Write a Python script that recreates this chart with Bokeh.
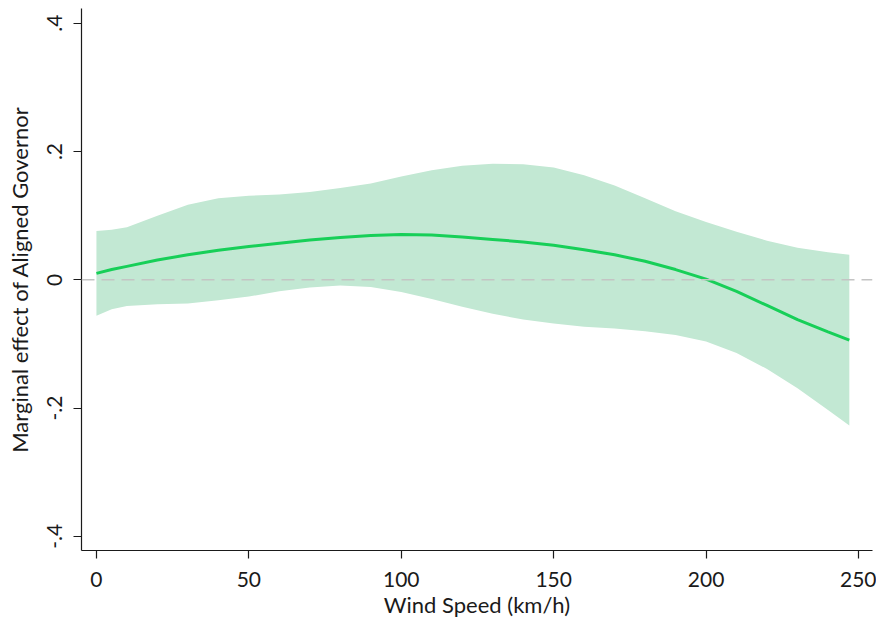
from bokeh.plotting import figure
from bokeh.models import Span, FixedTicker, ColumnDataSource
from bokeh.embed import file_html
from bokeh.resources import INLINE

wind_speed = [0, 5, 10, 20, 30, 40, 50, 60, 70, 80, 90, 100, 110, 120, 130, 140,
              150, 160, 170, 180, 190, 200, 210, 220, 230, 240, 247]
effect = [0.010, 0.016, 0.021, 0.031, 0.039, 0.046, 0.052, 0.057, 0.062, 0.066, 0.069,
          0.0705, 0.0698, 0.0668, 0.063, 0.059, 0.054, 0.047, 0.039, 0.029, 0.016, 0.001,
          -0.018, -0.040, -0.062, -0.081, -0.094]
upper = [0.076, 0.078, 0.082, 0.100, 0.117, 0.127, 0.131, 0.133, 0.137, 0.143, 0.150,
         0.161, 0.171, 0.178, 0.181, 0.180, 0.175, 0.163, 0.147, 0.127, 0.107, 0.090,
         0.075, 0.061, 0.050, 0.043, 0.039]
lower = [-0.056, -0.046, -0.041, -0.038, -0.037, -0.032, -0.026, -0.018, -0.012, -0.009,
         -0.011, -0.019, -0.030, -0.042, -0.053, -0.062, -0.068, -0.073, -0.076, -0.080,
         -0.086, -0.096, -0.114, -0.139, -0.169, -0.203, -0.227]

x_ticks = [0, 50, 100, 150, 200, 250]
y_ticks = [-0.4, -0.2, 0.0, 0.2, 0.4]
y_tick_labels = ["-.4", "-.2", "0", ".2", ".4"]

FONT = "Lato"
TXT = "#1a1a1a"

src = ColumnDataSource(dict(x=wind_speed, y=effect, lo=lower, hi=upper))

p = figure(width=876, height=620, output_backend="svg", toolbar_location=None,
           x_range=(-4.9, 254.6), y_range=(-0.422, 0.423),
           min_border_left=81, min_border_right=4, min_border_top=8, min_border_bottom=70)
p.outline_line_color = None
p.xgrid.visible = False
p.ygrid.visible = False
p.background_fill_color = "white"
p.border_fill_color = "white"

p.varea(x="x", y1="lo", y2="hi", source=src, fill_color="#c2e8d3", fill_alpha=1.0)
p.add_layout(Span(location=0, dimension="width", line_color="#c4c4c4",
                  line_dash="13 7", line_width=1.5))
p.line(x="x", y="y", source=src, line_color="#17cf58", line_width=3)

for ax in (p.xaxis[0], p.yaxis[0]):
    ax.axis_line_color = TXT
    ax.axis_line_width = 1.2
    ax.major_tick_line_color = TXT
    ax.major_tick_line_width = 1.2
    ax.major_tick_out = 8
    ax.major_tick_in = 0
    ax.minor_tick_line_color = None
    ax.major_label_text_font = FONT
    ax.major_label_text_font_size = "21px"
    ax.major_label_text_color = TXT
    ax.axis_label_text_font = FONT
    ax.axis_label_text_font_size = "22px"
    ax.axis_label_text_font_style = "normal"
    ax.axis_label_text_color = TXT

p.xaxis[0].ticker = FixedTicker(ticks=x_ticks)
p.xaxis[0].axis_label = "Wind Speed (km/h)"
p.xaxis[0].major_label_standoff = 13
p.xaxis[0].axis_label_standoff = 1

p.yaxis[0].ticker = FixedTicker(ticks=y_ticks)
p.yaxis[0].major_label_overrides = {v: s for v, s in zip(y_ticks, y_tick_labels)}
p.yaxis[0].major_label_orientation = "vertical"
p.yaxis[0].axis_label = "Marginal effect of Aligned Governor"
p.yaxis[0].major_label_standoff = 11
p.yaxis[0].axis_label_standoff = 12

open("out.html", "w").write(file_html(p, INLINE))
